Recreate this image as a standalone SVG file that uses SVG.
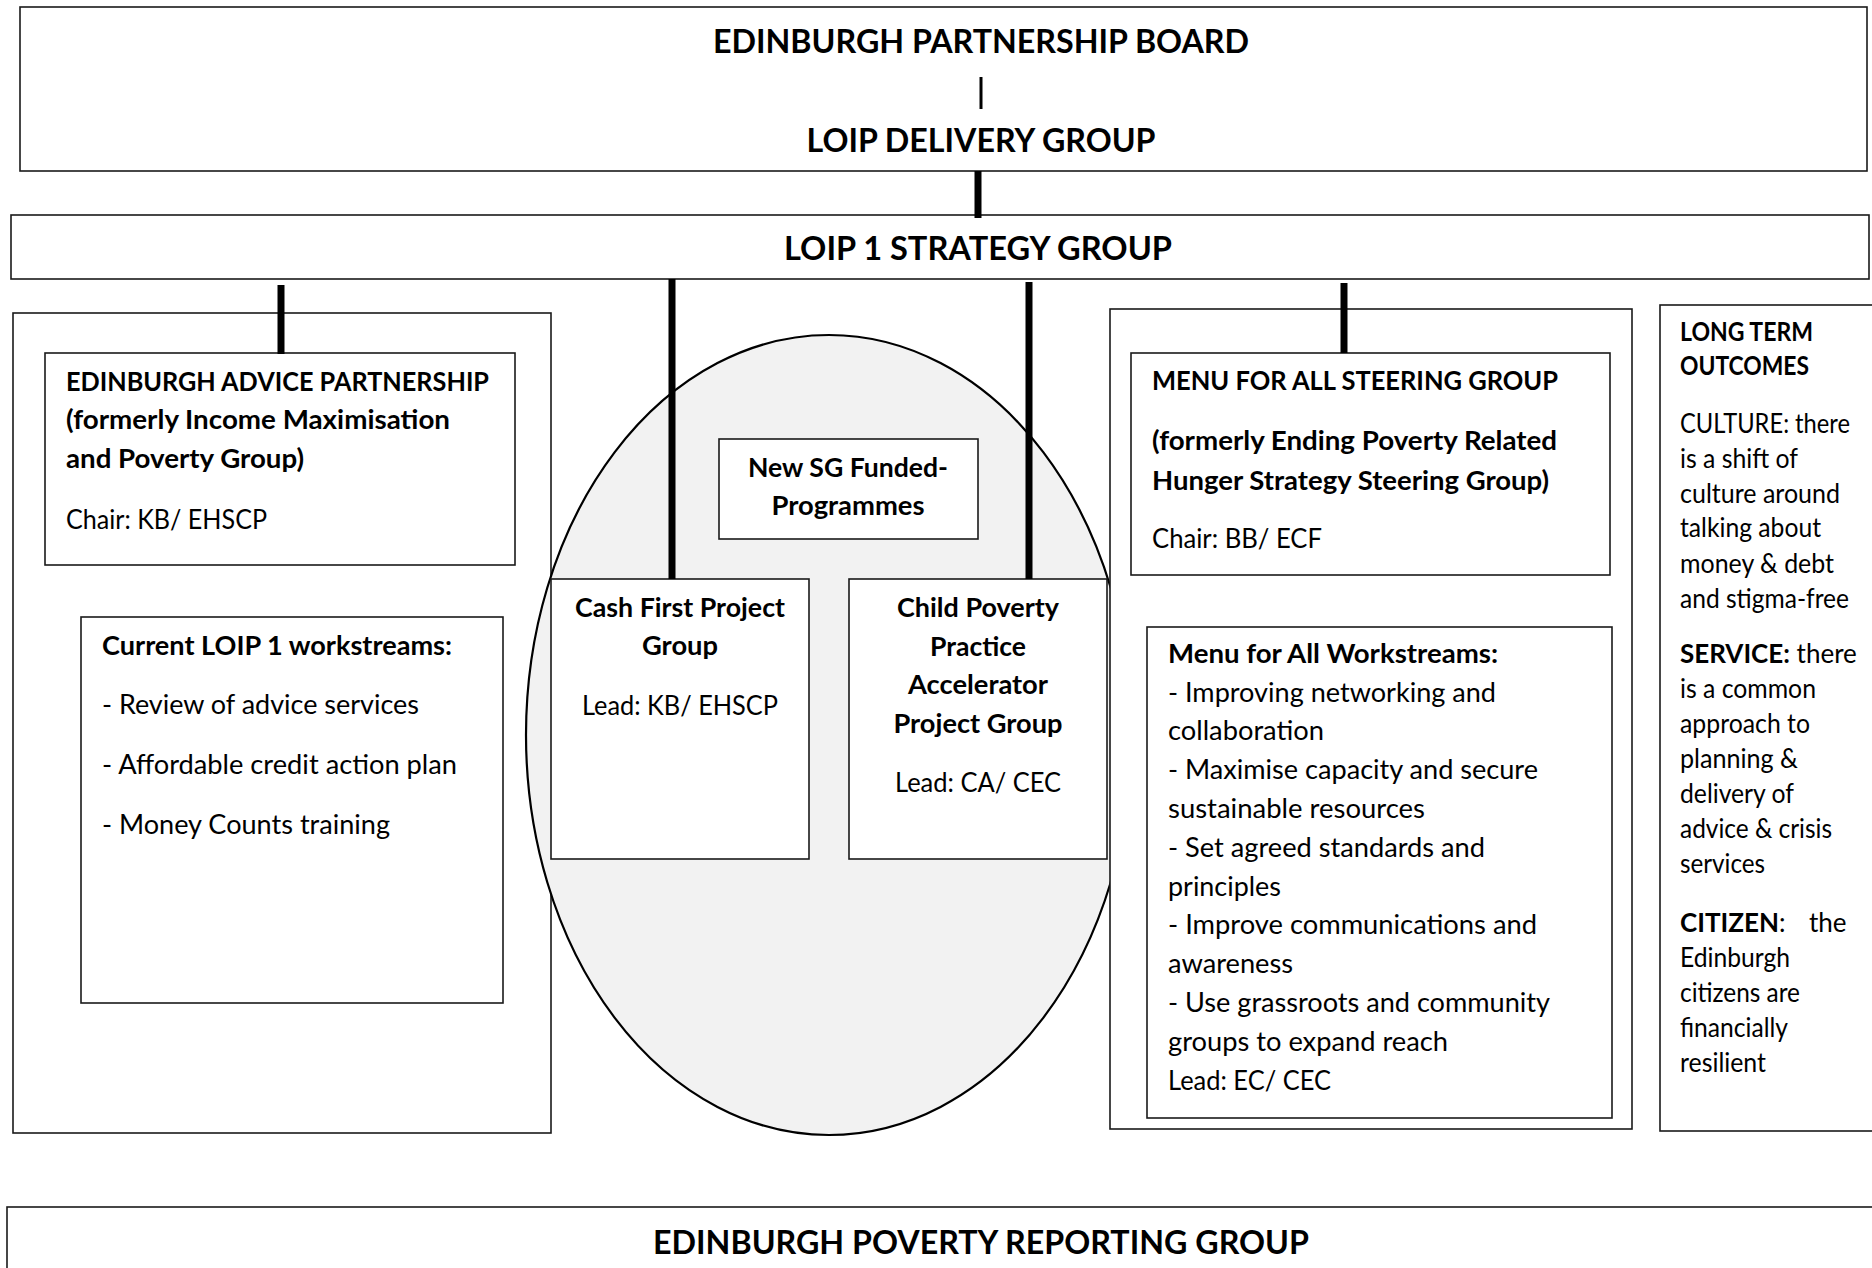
<svg xmlns="http://www.w3.org/2000/svg" width="1872" height="1268" viewBox="0 0 1872 1268">
  <style>
    .box { fill: #ffffff; stroke: #1a1a1a; stroke-width: 1.6; }
    .oval { fill: #f2f2f2; stroke: #000000; stroke-width: 2.2; }
    .link { stroke: #000000; stroke-width: 7; fill: none; }
    text { font-family: Lato, "Liberation Sans", sans-serif; fill: #000000; }
    .title { font-size: 32px; font-weight: 700; text-anchor: middle; }
    .b { font-size: 26px; font-weight: 700; }
    .r { font-size: 26px; font-weight: 400; }
    .mid { text-anchor: middle; }
  </style>

  <!-- Board / delivery group -->
  <g id="board">
    <rect class="box" x="20" y="7" width="1847" height="164"/>
    <text class="title" x="981" y="53" textLength="536" lengthAdjust="spacingAndGlyphs">EDINBURGH PARTNERSHIP BOARD</text>
    <line x1="981" y1="77" x2="981" y2="109" stroke="#000" stroke-width="3"/>
    <text class="title" x="981" y="152" textLength="349" lengthAdjust="spacingAndGlyphs">LOIP DELIVERY GROUP</text>
  </g>

  <!-- Strategy group -->
  <g id="strategy">
    <rect class="box" x="11" y="215" width="1858" height="64"/>
    <text class="title" x="978" y="260" textLength="388" lengthAdjust="spacingAndGlyphs">LOIP 1 STRATEGY GROUP</text>
  </g>

  <!-- Edinburgh Advice Partnership column -->
  <g id="advice-partnership">
    <rect class="box" x="13" y="313" width="538" height="820"/>
    <rect class="box" x="45" y="353" width="470" height="212"/>
    <text class="b" x="66" y="391" textLength="423" lengthAdjust="spacingAndGlyphs">EDINBURGH ADVICE PARTNERSHIP</text>
    <text class="b" x="66" y="429" textLength="384" lengthAdjust="spacingAndGlyphs">(formerly Income Maximisation</text>
    <text class="b" x="66" y="468" textLength="238" lengthAdjust="spacingAndGlyphs">and Poverty Group)</text>
    <text class="r" x="66" y="529" textLength="201" lengthAdjust="spacingAndGlyphs">Chair: KB/ EHSCP</text>
  </g>
  <g id="loip1-workstreams">
    <rect class="box" x="81" y="617" width="422" height="386"/>
    <text class="b" x="102" y="655" textLength="350" lengthAdjust="spacingAndGlyphs">Current LOIP 1 workstreams:</text>
    <text class="r" x="102" y="714" textLength="317" lengthAdjust="spacingAndGlyphs">- Review of advice services</text>
    <text class="r" x="102" y="774" textLength="355" lengthAdjust="spacingAndGlyphs">- Affordable credit action plan</text>
    <text class="r" x="102" y="834" textLength="288" lengthAdjust="spacingAndGlyphs">- Money Counts training</text>
  </g>

  <!-- SG funded programmes cluster -->
  <g id="sg-programmes">
    <ellipse class="oval" cx="829" cy="735" rx="303" ry="400"/>
    <rect class="box" x="719" y="439" width="259" height="100"/>
    <text class="b mid" x="848" y="477" textLength="200" lengthAdjust="spacingAndGlyphs">New SG Funded-</text>
    <text class="b mid" x="848" y="515" textLength="153" lengthAdjust="spacingAndGlyphs">Programmes</text>
  </g>
  <g id="cash-first">
    <rect class="box" x="551" y="579" width="258" height="280"/>
    <text class="b mid" x="680" y="617" textLength="210" lengthAdjust="spacingAndGlyphs">Cash First Project</text>
    <text class="b mid" x="680" y="655" textLength="76" lengthAdjust="spacingAndGlyphs">Group</text>
    <text class="r mid" x="680" y="715" textLength="196" lengthAdjust="spacingAndGlyphs">Lead: KB/ EHSCP</text>
  </g>
  <g id="child-poverty">
    <rect class="box" x="849" y="579" width="258" height="280"/>
    <text class="b mid" x="978" y="617" textLength="162" lengthAdjust="spacingAndGlyphs">Child Poverty</text>
    <text class="b mid" x="978" y="656" textLength="96" lengthAdjust="spacingAndGlyphs">Practice</text>
    <text class="b mid" x="978" y="694" textLength="140" lengthAdjust="spacingAndGlyphs">Accelerator</text>
    <text class="b mid" x="978" y="733" textLength="169" lengthAdjust="spacingAndGlyphs">Project Group</text>
    <text class="r mid" x="978" y="792" textLength="166" lengthAdjust="spacingAndGlyphs">Lead: CA/ CEC</text>
  </g>

  <!-- Menu for All column -->
  <g id="menu-for-all">
    <rect class="box" x="1110" y="309" width="522" height="820"/>
    <rect class="box" x="1131" y="353" width="479" height="222"/>
    <text class="b" x="1152" y="390" textLength="406" lengthAdjust="spacingAndGlyphs">MENU FOR ALL STEERING GROUP</text>
    <text class="b" x="1152" y="450" textLength="405" lengthAdjust="spacingAndGlyphs">(formerly Ending Poverty Related</text>
    <text class="b" x="1152" y="490" textLength="397" lengthAdjust="spacingAndGlyphs">Hunger Strategy Steering Group)</text>
    <text class="r" x="1152" y="548" textLength="170" lengthAdjust="spacingAndGlyphs">Chair: BB/ ECF</text>
  </g>
  <g id="menu-workstreams">
    <rect class="box" x="1147" y="627" width="465" height="491"/>
    <text class="b" x="1168" y="663" textLength="330" lengthAdjust="spacingAndGlyphs">Menu for All Workstreams:</text>
    <text class="r" x="1168" y="702" textLength="328" lengthAdjust="spacingAndGlyphs">- Improving networking and</text>
    <text class="r" x="1168" y="740" textLength="156" lengthAdjust="spacingAndGlyphs">collaboration</text>
    <text class="r" x="1168" y="779" textLength="370" lengthAdjust="spacingAndGlyphs">- Maximise capacity and secure</text>
    <text class="r" x="1168" y="818" textLength="257" lengthAdjust="spacingAndGlyphs">sustainable resources</text>
    <text class="r" x="1168" y="857" textLength="317" lengthAdjust="spacingAndGlyphs">- Set agreed standards and</text>
    <text class="r" x="1168" y="896" textLength="113" lengthAdjust="spacingAndGlyphs">principles</text>
    <text class="r" x="1168" y="934" textLength="369" lengthAdjust="spacingAndGlyphs">- Improve communications and</text>
    <text class="r" x="1168" y="973" textLength="125" lengthAdjust="spacingAndGlyphs">awareness</text>
    <text class="r" x="1168" y="1012" textLength="382" lengthAdjust="spacingAndGlyphs">- Use grassroots and community</text>
    <text class="r" x="1168" y="1051" textLength="280" lengthAdjust="spacingAndGlyphs">groups to expand reach</text>
    <text class="r" x="1168" y="1090" textLength="163" lengthAdjust="spacingAndGlyphs">Lead: EC/ CEC</text>
  </g>

  <!-- Long term outcomes -->
  <g id="outcomes">
    <rect class="box" x="1660" y="305" width="230" height="826"/>
    <text class="b" x="1680" y="341" textLength="133" lengthAdjust="spacingAndGlyphs">LONG TERM</text>
    <text class="b" x="1680" y="375" textLength="129" lengthAdjust="spacingAndGlyphs">OUTCOMES</text>
    <text class="r" x="1680" y="433" textLength="170" lengthAdjust="spacingAndGlyphs">CULTURE: there</text>
    <text class="r" x="1680" y="468" textLength="118" lengthAdjust="spacingAndGlyphs">is a shift of</text>
    <text class="r" x="1680" y="503" textLength="160" lengthAdjust="spacingAndGlyphs">culture around</text>
    <text class="r" x="1680" y="537" textLength="141" lengthAdjust="spacingAndGlyphs">talking about</text>
    <text class="r" x="1680" y="573" textLength="154" lengthAdjust="spacingAndGlyphs">money &amp; debt</text>
    <text class="r" x="1680" y="608" textLength="169" lengthAdjust="spacingAndGlyphs">and stigma-free</text>
    <text class="r" x="1680" y="663" font-size="24"><tspan font-weight="700">SERVICE:</tspan> there</text>
    <text class="r" x="1680" y="698" textLength="136" lengthAdjust="spacingAndGlyphs">is a common</text>
    <text class="r" x="1680" y="733" textLength="130" lengthAdjust="spacingAndGlyphs">approach to</text>
    <text class="r" x="1680" y="768" textLength="118" lengthAdjust="spacingAndGlyphs">planning &amp;</text>
    <text class="r" x="1680" y="803" textLength="114" lengthAdjust="spacingAndGlyphs">delivery of</text>
    <text class="r" x="1680" y="838" textLength="152" lengthAdjust="spacingAndGlyphs">advice &amp; crisis</text>
    <text class="r" x="1680" y="873" textLength="85" lengthAdjust="spacingAndGlyphs">services</text>
    <text class="r" x="1680" y="932" font-size="24"><tspan font-weight="700">CITIZEN</tspan>:<tspan x="1809">the</tspan></text>
    <text class="r" x="1680" y="967" textLength="110" lengthAdjust="spacingAndGlyphs">Edinburgh</text>
    <text class="r" x="1680" y="1002" textLength="120" lengthAdjust="spacingAndGlyphs">citizens are</text>
    <text class="r" x="1680" y="1037" textLength="108" lengthAdjust="spacingAndGlyphs">financially</text>
    <text class="r" x="1680" y="1072" textLength="86" lengthAdjust="spacingAndGlyphs">resilient</text>
  </g>

  <!-- Poverty reporting group -->
  <g id="reporting">
    <rect class="box" x="7" y="1207" width="1880" height="100"/>
    <text class="title" x="981" y="1254" textLength="656" lengthAdjust="spacingAndGlyphs">EDINBURGH POVERTY REPORTING GROUP</text>
  </g>

  <!-- Connectors -->
  <g id="connectors">
    <line class="link" x1="978" y1="171" x2="978" y2="218"/>
    <line class="link" x1="281" y1="285" x2="281" y2="354"/>
    <line class="link" x1="672" y1="279" x2="672" y2="579"/>
    <line class="link" x1="1029" y1="282" x2="1029" y2="579"/>
    <line class="link" x1="1344" y1="283" x2="1344" y2="353"/>
  </g>
</svg>
